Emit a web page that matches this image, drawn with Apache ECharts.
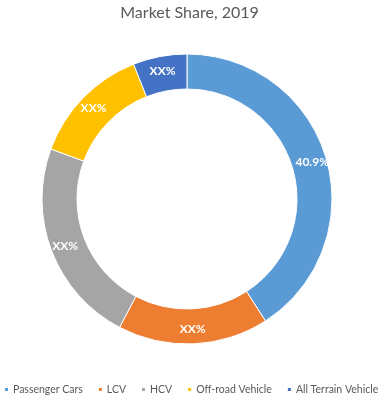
<!DOCTYPE html>
<html><head><meta charset="utf-8">
<script src="https://cdn.jsdelivr.net/npm/echarts@6/dist/echarts.min.js"></script>
<style>html,body{margin:0;padding:0;background:#fff}#c{width:379px;height:396px}</style>
</head><body><div id="c"></div>
<script>
const categories = ['Passenger Cars', 'LCV', 'HCV', 'Off-road Vehicle', 'All Terrain Vehicle'];
const shares = [40.9, 16.8, 22.9, 13.4, 6.0];
const labelTexts = ['40.9%', 'XX%', 'XX%', 'XX%', 'XX%'];
const colors = ['#5B9BD5', '#ED7D31', '#A5A5A5', '#FFC000', '#4472C4'];

const chart = echarts.init(document.getElementById('c'));
chart.setOption({
  animation: false,
  color: colors,
  title: {
    text: 'Market Share, 2019', left: 'center', top: 0,
    textStyle: { fontFamily: 'Lato', fontSize: 16, fontWeight: 'normal', color: '#595959' }
  },
  legend: {
    bottom: 1, left: 3, width: 376, padding: 0, icon: 'rect', itemWidth: 5, itemHeight: 5, itemGap: 14,
    textStyle: { fontFamily: 'Lato', fontSize: 10.5, color: '#595959', padding: [0, 0, 0, -1] },
    data: categories
  },
  series: [{
    type: 'pie', center: [187, 199], radius: [110, 145], startAngle: 90, clockwise: true,
    itemStyle: { borderColor: '#fff', borderWidth: 1 },
    label: {
      position: 'inside', color: '#fff', fontFamily: 'Lato', fontSize: 12, fontWeight: 'bold',
      formatter: p => labelTexts[p.dataIndex]
    },
    labelLine: { show: false },
    data: categories.map((c, i) => ({ name: c, value: shares[i] }))
  }]
});
</script></body></html>
